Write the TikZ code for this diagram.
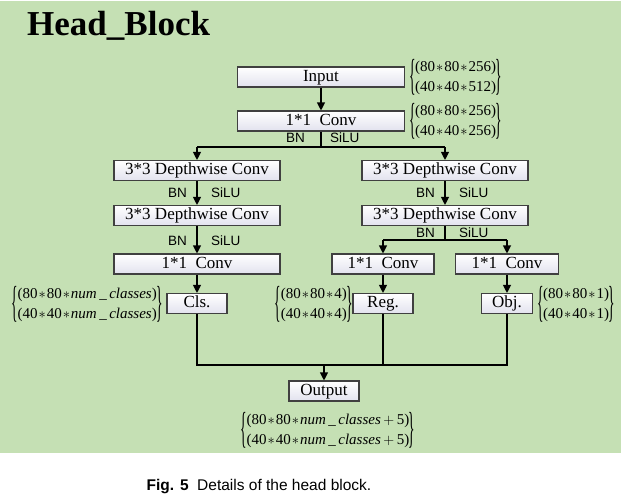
\documentclass[tikz,border=0pt]{standalone}
\usepackage{fontspec}
\setmainfont{Liberation Serif}
\setsansfont{Liberation Sans}
\usetikzlibrary{arrows.meta}

\definecolor{bggreen}{RGB}{197,224,180}
\definecolor{boxlav}{RGB}{226,226,238}
\newcommand{\starop}{\kern1pt$\ast$\kern1pt}
\newcommand{\tallbr}[1]{\vcenter{\hbox{\scalebox{0.9}[2.9]{#1}}}}
\newcommand{\dimpair}[2]{$\tallbr{\{}\kern-0.5pt\vcenter{\hbox{\begin{tabular}{@{}l@{}}#1\\#2\end{tabular}}}\kern-0.5pt\tallbr{\}}$}
\newcommand{\numcls}{\textit{num}\,\_\,\textit{classes}}

\begin{document}
\begin{tikzpicture}[x=1pt,y=-1pt,
	blk/.style={draw=black!75,line width=1.1pt,top color=white,bottom color=boxlav,minimum height=20pt,inner sep=0pt,font=\fontsize{17}{17}\selectfont,text height=11.5pt,text depth=3.5pt},
	act/.style={font=\sffamily\fontsize{13.5}{14}\selectfont,inner sep=0pt},
	dim/.style={font=\fontsize{15}{20}\selectfont,inner sep=0pt},
	arr/.style={-{Triangle[length=8pt,width=8pt]},line width=1.1pt},
	ln/.style={line width=1.1pt}]

		\useasboundingbox (0,0) rectangle (627,496);
		\fill[bggreen] (0,1) rectangle (621,453);

		\node[anchor=base west,inner sep=0pt,font=\bfseries\fontsize{35}{35}\selectfont] (title) at (27,35) {Head\_Block};

		% boxes
		\node[blk,minimum width=167pt] (input) at (321,77) {Input};
		\node[blk,minimum width=167pt] (conv1) at (321,121) {1*1~~Conv};

		\node[blk,minimum width=166pt] (dwl1) at (197,170.5) {3*3 Depthwise Conv};
		\node[blk,minimum width=166pt] (dwl2) at (197,215.5) {3*3 Depthwise Conv};
		\node[blk,minimum width=166pt] (convl) at (197,264) {1*1~~Conv};

		\node[blk,minimum width=166pt] (dwr1) at (445,170.5) {3*3 Depthwise Conv};
		\node[blk,minimum width=166pt] (dwr2) at (445,215.5) {3*3 Depthwise Conv};
		\node[blk,minimum width=102pt] (conva) at (383,264) {1*1~~Conv};
		\node[blk,minimum width=103pt] (convb) at (507,264) {1*1~~Conv};

		\node[blk,minimum width=60pt] (cls) at (197,303.5) {Cls.};
		\node[blk,minimum width=60pt] (reg) at (383,303.5) {Reg.};
		\node[blk,minimum width=51pt] (obj) at (507,303.5) {Obj.};

		\node[blk,minimum width=70pt] (output) at (324,391) {Output};

		% sizes
		\node[dim,anchor=west] (dinput) at (409,77) {\dimpair{(80\starop80\starop256)}{(40\starop40\starop512)}};
		\node[dim,anchor=west] (dconv1) at (409,121) {\dimpair{(80\starop80\starop256)}{(40\starop40\starop256)}};
		\node[dim,anchor=east] (dcls) at (163,304) {\dimpair{(80\starop80\starop\numcls)}{(40\starop40\starop\numcls)}};
		\node[dim,anchor=east] (dreg) at (353,304) {\dimpair{(80\starop80\starop4)}{(40\starop40\starop4)}};
		\node[dim,anchor=west] (dobj) at (537,304) {\dimpair{(80\starop80\starop1)}{(40\starop40\starop1)}};
		\node[dim] (doutput) at (328,430) {\dimpair{(80\starop80\starop\numcls\,$+$\,5)}{(40\starop40\starop\numcls\,$+$\,5)}};

		% activations
		\node[act,anchor=east] (bn0) at (305,138) {BN};
		\node[act,anchor=west] (silu0) at (330,138) {SiLU};
		\node[act,anchor=east] (bn1) at (187,193) {BN};
		\node[act,anchor=west] (silu1) at (211,193) {SiLU};
		\node[act,anchor=east] (bn2) at (187,241) {BN};
		\node[act,anchor=west] (silu2) at (211,241) {SiLU};
		\node[act,anchor=east] (bn3) at (435,193) {BN};
		\node[act,anchor=west] (silu3) at (459,193) {SiLU};
		\node[act,anchor=east] (bn4) at (435,233) {BN};
		\node[act,anchor=west] (silu4) at (459,233) {SiLU};

		% split and merge points
		\coordinate (s1) at (321,147);
		\coordinate (s1l) at (197,147);
		\coordinate (s1r) at (445,147);
		\coordinate (s2) at (445,240);
		\coordinate (s2l) at (383,240);
		\coordinate (s2r) at (507,240);
		\coordinate (m1) at (197,365);
		\coordinate (m2) at (383,365);
		\coordinate (m3) at (507,365);
		\coordinate (mo) at (324,365);

		\draw[arr] (input) to (conv1);
		\draw[ln] (conv1) to (s1);
		\draw[ln] (s1l) to (s1r);
		\draw[arr] (s1l) to (dwl1);
		\draw[arr] (s1r) to (dwr1);

		\draw[arr] (dwl1) to (dwl2);
		\draw[arr] (dwl2) to (convl);
		\draw[arr] (convl) to (cls);

		\draw[arr] (dwr1) to (dwr2);
		\draw[ln] (dwr2) to (s2);
		\draw[ln] (s2l) to (s2r);
		\draw[arr] (s2l) to (conva);
		\draw[arr] (s2r) to (convb);
		\draw[arr] (conva) to (reg);
		\draw[arr] (convb) to (obj);

		\draw[ln] (cls) to (m1) to (m3) to (obj);
		\draw[ln] (reg) to (m2);
		\draw[arr] (mo) to (output);

		\node[font=\sffamily\fontsize{15.5}{16}\selectfont,inner sep=0pt] (caption) at (259,487) {\textbf{Fig. 5}\ \ Details of the head block.};

	\end{tikzpicture}
\end{document}
